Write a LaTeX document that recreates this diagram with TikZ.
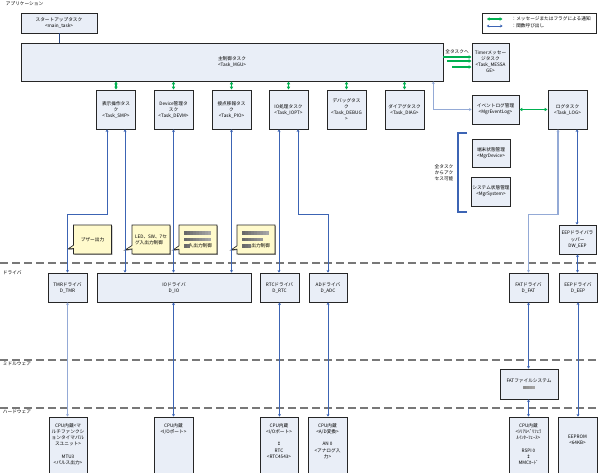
\documentclass[tikz,border=0pt]{standalone}
\usepackage{fontspec}
\setmainfont{Noto Sans CJK JP}
\newfontfamily\symfont{DejaVu Sans}
\usetikzlibrary{arrows.meta,calc,shadows,shapes.callouts}

\definecolor{boxfill}{RGB}{233,238,247}
\definecolor{notefill}{RGB}{255,250,204}
\definecolor{msggreen}{RGB}{0,176,80}
\definecolor{callblue}{RGB}{60,100,180}
\definecolor{layergray}{RGB}{120,120,120}

\tikzset{
  txt/.style={inner sep=0.5pt, font=\fontsize{3.5}{4.6}\selectfont},
  box/.style={txt, draw=black!85, line width=0.5pt, fill=boxfill, align=center,
    drop shadow={shadow xshift=0.6pt, shadow yshift=-0.6pt, fill=black!45, opacity=1}},
  note/.style={txt, rectangle callout, draw=black!85, line width=0.5pt, fill=notefill,
    align=left, callout pointer width=2.5pt, minimum width=28.5pt, minimum height=21.75pt,
    drop shadow={shadow xshift=0.6pt, shadow yshift=-0.6pt, fill=black!45, opacity=1}},
  layer/.style={draw=layergray, line width=1.1pt, dash pattern={on 6pt off 3pt}},
  msg/.style={draw=msggreen, line width=0.9pt, {Latex[length=2.2pt,width=2.8pt]}-{Latex[length=2.2pt,width=2.8pt]}},
  msgone/.style={draw=msggreen, line width=0.9pt, {Latex[length=2.2pt,width=2.8pt]}-},
  call/.style={draw=callblue, line width=0.5pt, {Stealth[length=2pt,width=2.2pt]}-{Stealth[length=2pt,width=2.2pt]}},
  calllight/.style={call, draw=callblue!55, line width=0.8pt},
  plain/.style={draw=callblue!70!black, line width=0.5pt},
}

% blurred text blocks
\newcommand\mosaic[4][22]{%
  \foreach \k in {1,...,#4}{
    \pgfmathtruncatemacro\shade{#1+mod(\k*37,40)}
    \fill[black!\shade] ({#2+(\k-1)*3},{#3-1.6}) rectangle ++(3,3.2);
  }}

\begin{document}
\begin{tikzpicture}[x=0.75pt,y=0.75pt,yscale=-1,xscale=1]
    \useasboundingbox (0,0) rectangle (600,472);

    % layers
    \draw[layer] (0,263) -- (600,263);
    \draw[layer] (0,360) -- (600,360);
    \draw[layer] (0,408) -- (600,408);
    \node[txt, anchor=west] (lapp) at (5,4) {アプリケーション};
    \node[txt, anchor=west] (ldrv) at (2,273) {ドライバ};
    \node[txt, anchor=west] (lmid) at (2,364) {ミドルウェア};
    \node[txt, anchor=west] (lhw) at (2,412) {ハードウェア};

    % legend
    \node[draw=black!85, line width=0.5pt, fill=white, minimum width=85.5pt, minimum height=15pt] (legend) at (539,23) {};
    \draw[msg] ($(legend.west)+(5,-4)$) -- ++(16,0);
    \draw[call] ($(legend.west)+(5,3)$) -- ++(16,0);
    \node[txt, anchor=west] (legmsg) at ($(legend.west)+(29,-4)$) {：メッセージまたはフラグによる通知};
    \node[txt, anchor=west] (legcall) at ($(legend.west)+(29,3)$) {：関数呼び出し};

    % application
    \node[box, minimum width=57pt, minimum height=15pt] (startup) at (59,23) {スタートアップタスク\\<main\_task>};
    \node[box, minimum width=316.5pt, minimum height=28.5pt] (main) at (232,62) {主制御タスク\\<Task\_MGU>};
    \node[box, minimum width=27.75pt, minimum height=28.5pt] (timer) at (490.5,62) {Timerメッセー\\ジタスク\\<Task\_MESSA\\GE>};
    \node[txt] (alltask) at (457,52) {全タスクへ};

    \node[box, minimum width=29.25pt, minimum height=29.25pt] (smp) at (116,109.5) {表示操作タス\\ク\\<Task\_SMP>};
    \node[box, minimum width=29.25pt, minimum height=29.25pt] (devm) at (173.5,109.5) {Device管理タ\\スク\\<Task\_DEVM>};
    \node[box, minimum width=29.25pt, minimum height=29.25pt] (pio) at (231.5,109.5) {接点移報タス\\ク\\<Task\_PIO>};
    \node[box, minimum width=29.25pt, minimum height=29.25pt] (iopt) at (288.5,109.5) {IO処理タスク\\<Task\_IOPT>};
    \node[box, minimum width=29.25pt, minimum height=29.25pt] (debug) at (346.5,109.5) {デバッグタス\\ク\\<Task\_DEBUG\\>};
    \node[box, minimum width=29.25pt, minimum height=29.25pt] (diag) at (404.5,109.5) {ダイアグタスク\\<Task\_DIAG>};
    \node[box, minimum width=35.25pt, minimum height=21.75pt] (evlog) at (495.5,109.5) {イベントログ管理\\<MgrEventLog>};
    \node[box, minimum width=29.25pt, minimum height=29.25pt] (log) at (567.5,109.5) {ログタスク\\<Task\_LOG>};
    \node[box, minimum width=28.5pt, minimum height=21pt] (mgrdev) at (491,153) {端末状態管理\\<MgrDevice>};
    \node[box, minimum width=28.5pt, minimum height=21.75pt] (mgrsys) at (491,191.5) {システム状態管理\\<MgrSystem>};
    \node[box, minimum width=27.75pt, minimum height=21.75pt] (eepw) at (577.5,239.5) {EEPドライバラ\\ッパー\\DW\_EEP};

    % access bracket
    \draw[draw=callblue, line width=0.9pt] (467,133) -- (458,133) -- (458,212) -- (467,212);
    \node[txt, align=center] (anyaccess) at (444,173) {全タスク\\からアク\\セス可能};

    % notes
    \coordinate (tipbuz) at (68,249);
    \coordinate (tipled) at (125,250);
    \coordinate (tipin) at (173,250);
    \coordinate (tipout) at (231,250);
    \node[note, callout absolute pointer={(tipbuz)}] (nbuz) at (92.5,239.5) {ブザー出力};
    \node[note, callout absolute pointer={(tipled)}] (nled) at (151,239.5) {LED、SW、7セ\\グ入出力制御};
    \node[note, callout absolute pointer={(tipin)}] (nin) at (198,239.5) {\phantom{回回回回回回}\\\phantom{回回回回回回}\\\phantom{回}入出力制御};
    \node[note, callout absolute pointer={(tipout)}] (nout) at (256,239.5) {\phantom{回回回回回回}\\\phantom{回回回回回回}\\\phantom{回回}出力制御};
    \mosaic{184}{233}{9}
    \mosaic{184}{239.5}{9}
    \mosaic{184}{246}{2}
    \mosaic{242}{233}{9}
    \mosaic{242}{239.5}{7}
    \mosaic{242}{246}{3}

    % drivers
    \node[box, minimum width=29.25pt, minimum height=21.75pt] (tmr) at (67.5,287.5) {TMRドライバ\\D\_TMR};
    \node[box, minimum width=115.5pt, minimum height=21.75pt] (iodrv) at (174,287.5) {IOドライバ\\D\_IO};
    \node[box, minimum width=29.25pt, minimum height=21.75pt] (rtc) at (279.5,287.5) {RTCドライバ\\D\_RTC};
    \node[box, minimum width=28.5pt, minimum height=21.75pt] (adc) at (328,287.5) {ADドライバ\\D\_ADC};
    \node[box, minimum width=29.25pt, minimum height=21.75pt] (fat) at (528.5,287.5) {FATドライバ\\D\_FAT};
    \node[box, minimum width=28.5pt, minimum height=21.75pt] (eep) at (578,287.5) {EEPドライバ\\D\_EEP};

    % middleware
    \node[box, minimum width=43.5pt, minimum height=22.5pt] (fatfs) at (529,384) {FATファイルシステム\\\phantom{回}};
    \mosaic[8]{523}{387.5}{4}

    % hardware
    \node[box, minimum width=28.5pt, minimum height=47.25pt] (hwmtu) at (68,448.5) {};
    \node[box, minimum width=29.25pt, minimum height=47.25pt] (hwio) at (173.5,448.5) {};
    \node[box, minimum width=28.5pt, minimum height=47.25pt] (hwrtc) at (279,448.5) {};
    \node[box, minimum width=29.25pt, minimum height=47.25pt] (hwadc) at (327.5,448.5) {};
    \node[box, minimum width=29.25pt, minimum height=47.25pt] (hwspi) at (528.5,448.5) {};
    \node[box, minimum width=29.25pt, minimum height=47.25pt] (hweeprom) at (577.5,448.5) {};
    \node[txt, align=center, anchor=north] (tmtu) at ($(hwmtu.north)+(0,6)$) {CPU内蔵<マ\\ルチファンクシ\\ョンタイマパル\\スユニット>\\[4.6pt]MTU3\\<パルス出力>};
    \node[txt, align=center, anchor=north] (tio) at ($(hwio.north)+(0,6)$) {CPU内蔵\\<I/Oポート>};
    \node[txt, align=center, anchor=north] (trtc) at ($(hwrtc.north)+(0,6)$) {CPU内蔵\\<I/Oポート>\\[4.6pt]{\symfont ↕}\\RTC\\<RTC4543>};
    \node[txt, align=center, anchor=north] (tadc) at ($(hwadc.north)+(0,6)$) {CPU内蔵\\<A/D変換>\\[4.6pt]AN 0\\<アナログ入\\力>};
    \node[txt, align=center, anchor=north] (tspi) at ($(hwspi.north)+(0,6)$) {CPU内蔵\\<ｼﾘｱﾙﾍﾟﾘﾌｪﾗ\\ﾙｲﾝﾀｰﾌｪｰｽ>\\[4.6pt]RSPI 0\\{\symfont ↕}\\MMCｶｰﾄﾞ};
    \node[txt, align=center, anchor=north] (teeprom) at ($(hweeprom.north)+(0,17)$) {EEPROM\\<64KB>};

    % messages
    \draw[plain] (startup.south) -- (startup.south |- main.north);
    \foreach \t in {smp,devm,pio,iopt,debug,diag}
      \draw[msg] (\t.north |- main.south) -- (\t.north);
    \draw[msgone] ($(timer.west)+(0,-5)$) -- ($(main.east)+(0,-5)$);
    \draw[msgone] ($(timer.west)+(0,-1)$) -- ++(-25,0);
    \draw[msgone] ($(timer.west)+(0,5)$) -- ++(-20,0);
    \draw[calllight] ($(main.south east)+(-10,0)$) |- (evlog.west);
    \draw[msg] (evlog.east) -- (log.west);

    % calls: tasks to drivers
    \coordinate (smpL) at ($(smp.south)+(-9,0)$);
    \coordinate (smpR) at ($(smp.south)+(9,0)$);
    \coordinate (ioptL) at ($(iopt.south)+(-9.5,0)$);
    \coordinate (ioptR) at ($(iopt.south)+(9.5,0)$);
    \coordinate (logL) at ($(log.south)+(-9.5,0)$);
    \coordinate (logR) at ($(log.south)+(9.5,0)$);
    \draw[call] (smpL) |- ($(tmr.north)+(0,-58)$) -- (tmr.north);
    \draw[call] (smpR) -- (smpR |- iodrv.north);
    \draw[call] (devm.south) -- (devm.south |- iodrv.north);
    \draw[call] (pio.south) -- (pio.south |- iodrv.north);
    \draw[call] (ioptL) -- (ioptL |- rtc.north);
    \draw[call] (ioptR) |- ($(adc.north)+(0,-58)$) -- (adc.north);
    \draw[calllight] (logL) |- ($(fat.north)+(0,-58)$) -- (fat.north);
    \draw[call] (logR) -- (logR |- eepw.north);
    \draw[call] (eepw.south) -- (eepw.south |- eep.north);

    % calls: drivers to hardware
    \draw[calllight] (tmr.south) -- (tmr.south |- hwmtu.north);
    \draw[call] (hwio.north |- iodrv.south) -- (hwio.north);
    \draw[call] (rtc.south) -- (rtc.south |- hwrtc.north);
    \draw[call] (adc.south) -- (adc.south |- hwadc.north);
    \draw[call] (fat.south) -- (fat.south |- fatfs.north);
    \draw[call] (hwspi.north |- fatfs.south) -- (hwspi.north);
    \draw[call] (eep.south) -- (eep.south |- hweeprom.north);

\end{tikzpicture}
\end{document}
